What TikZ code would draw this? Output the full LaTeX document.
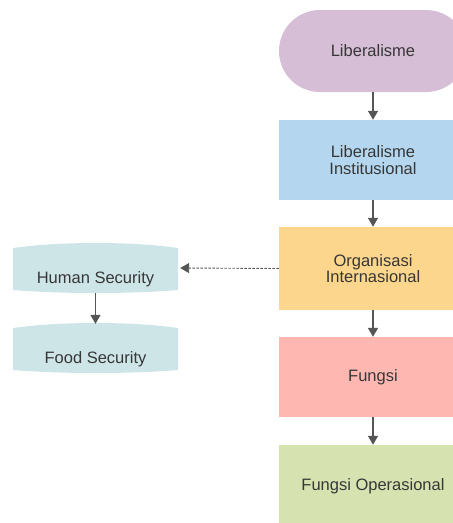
\documentclass[tikz,border=0pt]{standalone}
\usepackage{fontspec}
\setmainfont{Liberation Sans}
\usetikzlibrary{arrows.meta}

\definecolor{lilac}{RGB}{213,190,214}
\definecolor{skyblue}{RGB}{180,214,238}
\definecolor{sand}{RGB}{251,214,140}
\definecolor{salmon}{RGB}{255,183,178}
\definecolor{sage}{RGB}{214,227,176}
\definecolor{mist}{RGB}{206,229,232}
\definecolor{txtgray}{RGB}{55,55,55}
\definecolor{arrgray}{RGB}{85,85,85}

\begin{document}
\begin{tikzpicture}[x=1pt,y=-1pt,
    box/.style={rectangle, minimum width=188pt, inner sep=0pt, align=center,
        text=txtgray, font=\fontsize{16.5}{16.5}\selectfont},
    secbox/.style={rectangle, minimum width=165pt, minimum height=50pt, inner sep=0pt,
        text height=30pt, text depth=0pt, text=txtgray, font=\fontsize{16.5}{16.5}\selectfont},
    link/.style={draw=arrgray, line width=1.3pt, -{Triangle[length=9pt,width=10pt]}}]
    \useasboundingbox (0,0) rectangle (453,523);
    \clip (0,0) rectangle (453,523);

    %flow
    \node[box, fill=lilac, minimum height=82pt, rounded corners=41pt] (lib) at (373,51) {Liberalisme};
    \node[box, fill=skyblue, minimum height=80pt] (inst) at (373,160) {Liberalisme\\Institusional};
    \node[box, fill=sand, minimum height=83pt] (org) at (373,268.5) {Organisasi\\Internasional};
    \node[box, fill=salmon, minimum height=80pt] (fungsi) at (373,377) {Fungsi};
    \node[box, fill=sage, minimum height=83pt] (ops) at (373,486.5) {Fungsi Operasional};

    %security
    \fill[mist] (13,248) .. controls (60,241.3) and (131,241.3) .. (178,248) -- (178,290)
        .. controls (131,294) and (60,294) .. (13,290) -- cycle;
    \fill[mist] (13,328) .. controls (60,321.3) and (131,321.3) .. (178,328) -- (178,370)
        .. controls (131,374) and (60,374) .. (13,370) -- cycle;
    \node[secbox] (human) at (95.5,268) {Human Security};
    \node[secbox] (food) at (95.5,348) {Food Security};

    %arrows
    \draw[link] (lib) -- (inst);
    \draw[link] (inst) -- (org);
    \draw[link] (org) -- (fungsi);
    \draw[link] (fungsi) -- (ops);
    \draw[link] (human.south) -- ([yshift=-1pt]food.north);
    \draw[link, line width=0.9pt, dash pattern=on 2.5pt off 1.5pt] (org.west) -- ([xshift=2pt]human.east);
\end{tikzpicture}
\end{document}
